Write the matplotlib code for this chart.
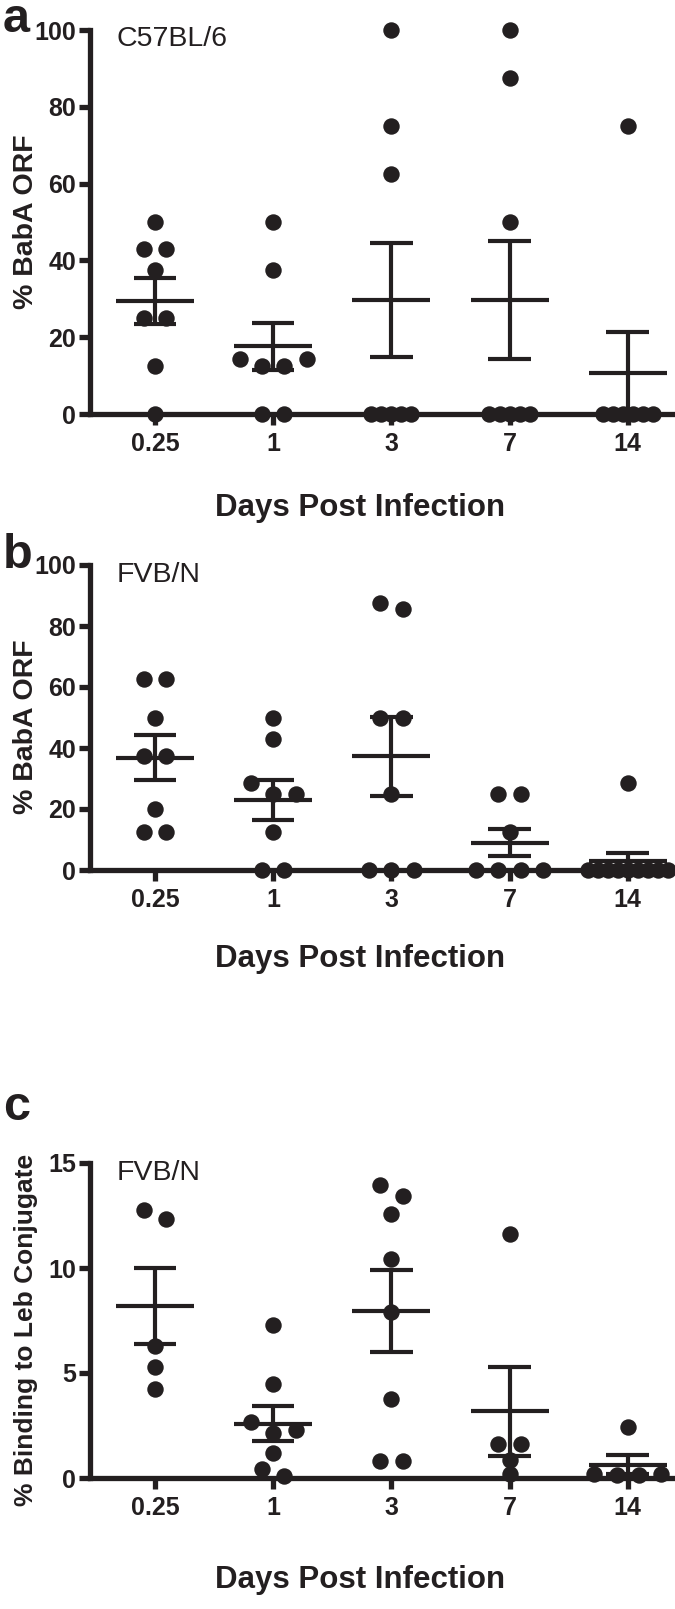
"""Three-panel dot plot: BabA ORF and Leb binding over days post infection."""

import numpy as np
import matplotlib
matplotlib.use("Agg")
import matplotlib.pyplot as plt

plt.rcParams["font.family"] = ["Liberation Sans", "DejaVu Sans"]

days = ["0.25", "1", "3", "7", "14"]

# panel a, C57BL/6, % BabA ORF
a_d025 = [50, 42.9, 42.9, 37.5, 25, 25, 12.5, 0]
a_d1 = [50, 37.5, 14.3, 14.3, 12.5, 12.5, 0, 0]
a_d3 = [100, 75, 62.5, 0, 0, 0, 0, 0]
a_d7 = [100, 87.5, 50, 0, 0, 0, 0, 0]
a_d14 = [75, 0, 0, 0, 0, 0, 0]

# panel b, FVB/N, % BabA ORF
b_d025 = [62.5, 62.5, 50, 37.5, 37.5, 20, 12.5, 12.5]
b_d1 = [50, 42.9, 28.6, 25, 25, 12.5, 0, 0]
b_d3 = [87.5, 85.7, 50, 50, 25, 0, 0, 0]
b_d7 = [25, 25, 12.5, 0, 0, 0, 0]
b_d14 = [28.6, 0, 0, 0, 0, 0, 0, 0, 0, 0]

# panel c, FVB/N, % binding to Leb conjugate
c_d025 = [12.75, 12.35, 6.3, 5.3, 4.25]
c_d1 = [7.3, 4.5, 2.65, 2.3, 2.13, 1.2, 0.42, 0.1]
c_d3 = [13.95, 13.45, 12.55, 10.45, 7.9, 3.75, 0.82, 0.82]
c_d7 = [11.6, 1.6, 1.6, 0.88, 0.17]
c_d14 = [2.45, 0.2, 0.15, 0.15, 0.2]

INK = "#231f20"
BOLD = dict(fontweight="bold")


def swarm_offsets(ax, vals, thresh_px=13):
    """Spread points that would overlap, GraphPad style."""
    vals = np.asarray(vals, dtype=float)
    y0, y1 = ax.get_ylim()
    px = vals * ax.bbox.height / (y1 - y0)
    order = np.argsort(px)
    groups, cur = [], [order[0]]
    for i in order[1:]:
        if px[i] - px[cur[-1]] <= thresh_px:
            cur.append(i)
        else:
            groups.append(cur)
            cur = [i]
    groups.append(cur)

    offs = np.zeros(len(vals))
    for g in groups:
        n = len(g)
        s = 0.19 if n <= 4 else 0.085
        slots = (np.arange(n) - (n - 1) / 2) * s
        slots = sorted(slots, key=lambda o: (round(abs(o), 6), -o))
        for idx, o in zip(g, slots):
            offs[idx] = o
    return offs


def draw_panel(ax, groups, ylim, yticks, ylabel, ylab_size, strain, ylab_y):
    ax.set_xlim(-0.55, 4.4)
    ax.set_ylim(*ylim)

    for i, vals in enumerate(groups):
        vals = np.asarray(vals, dtype=float)
        offs = swarm_offsets(ax, vals)
        ax.scatter(i + offs, vals, s=140, color=INK, zorder=3,
                   clip_on=False, linewidths=0)

        mean = vals.mean()
        sem = vals.std(ddof=1) / np.sqrt(len(vals))
        kw = dict(color=INK, lw=3.0, zorder=4, clip_on=False)
        ax.hlines(mean, i - 0.33, i + 0.33, **kw)
        ax.vlines(i, max(mean - sem, 0), mean + sem, **kw)
        ax.hlines([mean + sem], i - 0.18, i + 0.18, **kw)
        if mean - sem > 0.01 * ylim[1]:
            ax.hlines([mean - sem], i - 0.18, i + 0.18, **kw)

    for side in ("top", "right"):
        ax.spines[side].set_visible(False)
    for side in ("left", "bottom"):
        ax.spines[side].set_linewidth(3.8)
        ax.spines[side].set_color(INK)
        ax.spines[side].set_zorder(2)

    ax.set_xticks(range(len(days)))
    ax.set_xticklabels(days)
    ax.set_yticks(yticks)
    ax.tick_params(width=3.8, length=8, colors=INK, labelsize=18, pad=5)
    for lab in ax.get_xticklabels() + ax.get_yticklabels():
        lab.set_fontweight("bold")
    ax.tick_params(axis="y", pad=2)

    ax.set_ylabel(ylabel, fontsize=ylab_size, color=INK, **BOLD)
    ax.yaxis.set_label_coords(-0.11, ylab_y)
    ax.yaxis.label.set_va("center")
    ax.text(0.045, 1.01, strain, transform=ax.transAxes, fontsize=20.5,
            va="top", ha="left", color=INK)


fig = plt.figure(figsize=(6.75, 16.09), dpi=100)
W, H = 675.0, 1609.0
left = 90 / W
width = 1 - left

panels = [
    ([a_d025, a_d1, a_d3, a_d7, a_d14], (0, 100), range(0, 101, 20),
     "% BabA ORF", 20.5, "C57BL/6", 30, 414, 508, 0.5, "a", 32),
    ([b_d025, b_d1, b_d3, b_d7, b_d14], (0, 100), range(0, 101, 20),
     "% BabA ORF", 20.5, "FVB/N", 565, 870, 959, 0.47, "b", 568),
    ([c_d025, c_d1, c_d3, c_d7, c_d14], (0, 15), range(0, 16, 5),
     "% Binding to Leb Conjugate", 19, "FVB/N", 1163, 1478, 1580, 0.47, "c", 1120),
]

for groups, ylim, yticks, ylabel, ysz, strain, top, bot, xl, yl, letter, lb in panels:
    ax = fig.add_axes([left, 1 - bot / H, width, (bot - top) / H])
    draw_panel(ax, groups, ylim, list(yticks), ylabel, ysz, strain, yl)
    ax.set_xlabel("Days Post Infection", fontsize=22.5, color=INK, **BOLD)
    ax.xaxis.set_label_coords((360 - 90) / 585, -(xl - bot) / (bot - top))
    ax.xaxis.label.set_va("center")
    fig.text(3 / W, 1 - lb / H, letter, fontsize=35, color=INK,
             ha="left", va="baseline", **BOLD)

fig.savefig("out.png", dpi=100)
